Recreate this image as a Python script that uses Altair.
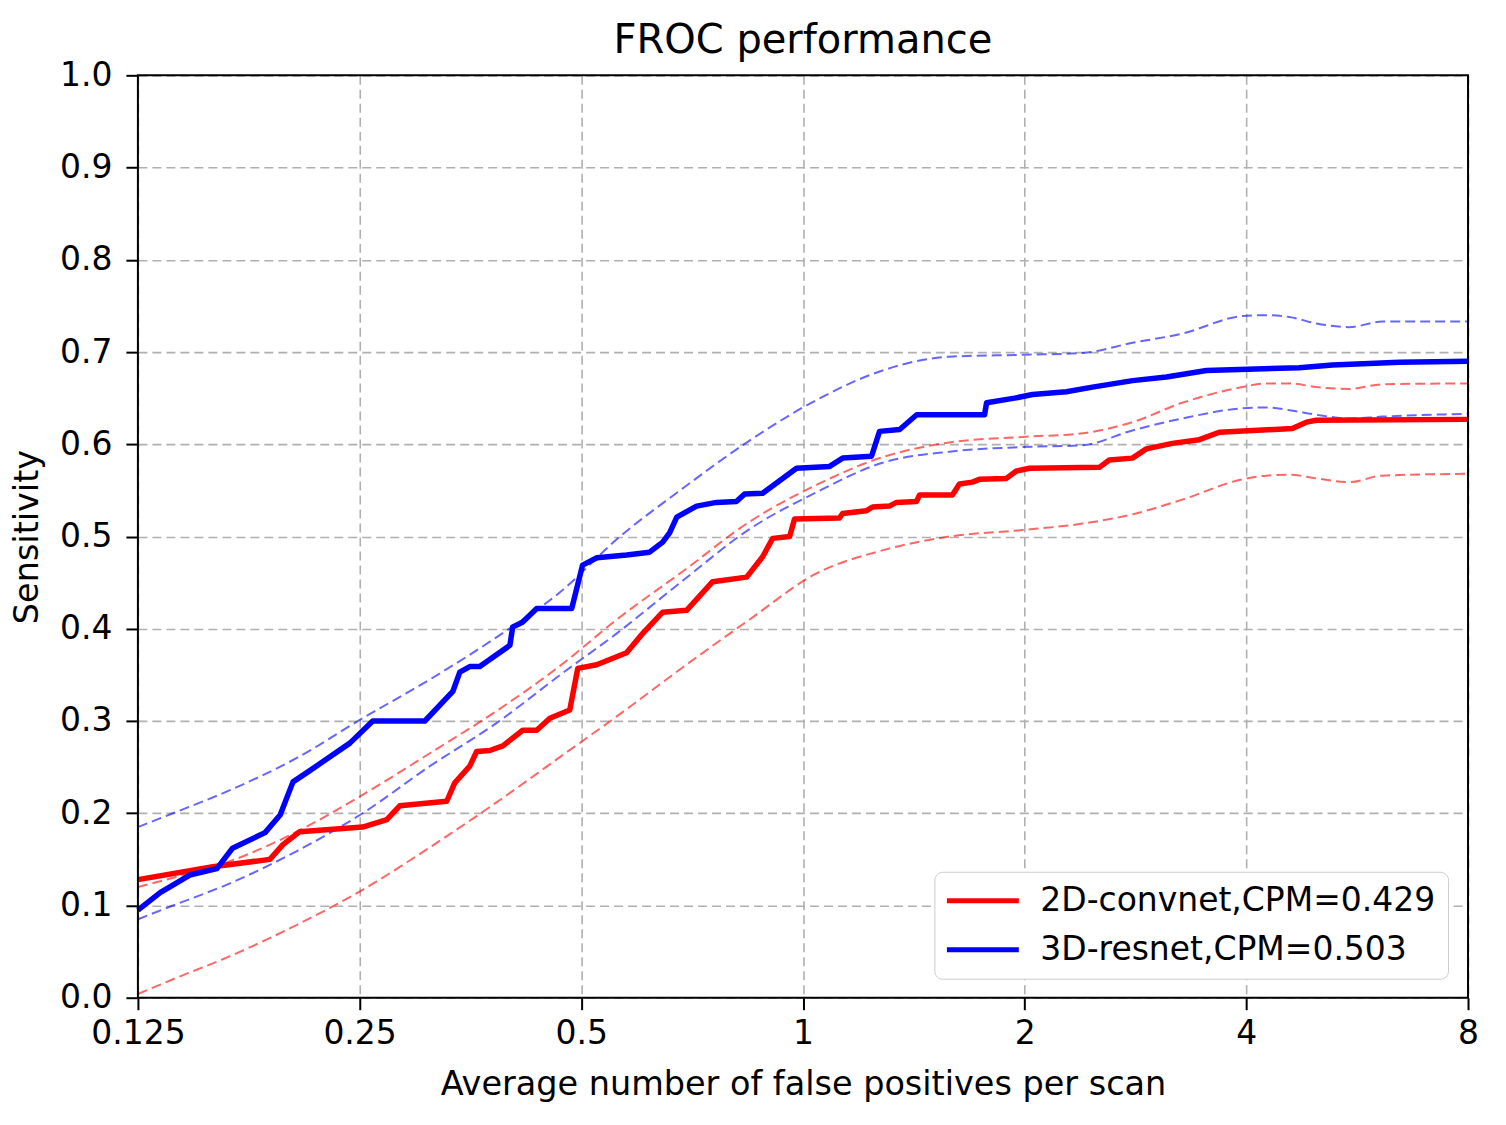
import altair as alt
import pandas as pd

# ---------------- data ----------------
series_names = ["2D-convnet,CPM=0.429", "3D-resnet,CPM=0.503"]
series_colors = ["#ff0000", "#0000ff"]

x_ticks = [0.125, 0.25, 0.5, 1, 2, 4, 8]
y_ticks = [0.0, 0.1, 0.2, 0.3, 0.4, 0.5, 0.6, 0.7, 0.8, 0.9, 1.0]

# 2D-convnet mean FROC curve
red_x = [0.125, 0.158, 0.1888, 0.1967, 0.2073, 0.2524, 0.2722, 0.2834, 0.3283, 0.3366,
         0.3528, 0.3605, 0.3756, 0.3912, 0.4164, 0.435, 0.4532, 0.4823, 0.4945, 0.5246,
         0.576, 0.606, 0.645, 0.695, 0.754, 0.8386, 0.8815, 0.9095, 0.9593, 0.974,
         1.121, 1.132, 1.22, 1.243, 1.31, 1.34, 1.426, 1.44, 1.5955, 1.631,
         1.699, 1.736, 1.889, 1.949, 2.031, 2.526, 2.606, 2.801, 2.926, 3.173,
         3.453, 3.676, 4.617, 4.827, 4.979, 8.0]
red_y = [0.128, 0.142, 0.150, 0.166, 0.180, 0.185, 0.193, 0.208, 0.213, 0.233,
         0.251, 0.267, 0.268, 0.273, 0.290, 0.290, 0.303, 0.312, 0.357, 0.361,
         0.374, 0.395, 0.418, 0.420, 0.451, 0.456, 0.478, 0.498, 0.500, 0.519,
         0.520, 0.525, 0.528, 0.532, 0.533, 0.537, 0.538, 0.545, 0.545, 0.557,
         0.559, 0.562, 0.563, 0.571, 0.574, 0.575, 0.583, 0.585, 0.595, 0.601,
         0.605, 0.613, 0.617, 0.624, 0.626, 0.627]

# 3D-resnet mean FROC curve
blue_x = [0.125, 0.134, 0.147, 0.160, 0.168, 0.186, 0.195, 0.203, 0.212, 0.2425,
          0.2605, 0.3066, 0.3346, 0.342, 0.3528, 0.364, 0.400, 0.4035, 0.416, 0.435,
          0.4853, 0.502, 0.525, 0.576, 0.619, 0.645, 0.659, 0.674, 0.717, 0.763,
          0.812, 0.833, 0.8815, 0.980, 1.087, 1.132, 1.239, 1.2705, 1.353, 1.427,
          1.7645, 1.7756, 1.938, 2.049, 2.279, 2.472, 2.803, 3.115, 3.531, 4.721,
          5.234, 6.454, 8.0]
blue_y = [0.095, 0.114, 0.133, 0.140, 0.162, 0.179, 0.198, 0.234, 0.244, 0.276,
          0.300, 0.300, 0.332, 0.353, 0.359, 0.359, 0.382, 0.402, 0.407, 0.422,
          0.422, 0.469, 0.477, 0.480, 0.483, 0.494, 0.504, 0.521, 0.533, 0.537,
          0.538, 0.546, 0.547, 0.574, 0.576, 0.585, 0.587, 0.614, 0.616, 0.632,
          0.632, 0.645, 0.650, 0.654, 0.657, 0.662, 0.669, 0.673, 0.680, 0.683,
          0.686, 0.689, 0.690]

# confidence-band curves (dashed)
band_x = [0.125, 0.1395, 0.1667, 0.2055, 0.2524, 0.3114, 0.3839, 0.4717, 0.5587, 0.6863,
          0.8462, 1.0432, 1.2825, 1.5812, 1.9862, 2.397, 2.801, 3.274, 3.950, 4.258,
          4.576, 4.979, 5.517, 6.118, 8.0]
red_upper = [0.120, 0.130, 0.148, 0.180, 0.220, 0.265, 0.311, 0.362, 0.410, 0.462,
             0.516, 0.556, 0.586, 0.602, 0.608, 0.612, 0.624, 0.645, 0.662, 0.666,
             0.666, 0.662, 0.660, 0.665, 0.666]
red_lower = [0.004, 0.020, 0.045, 0.079, 0.117, 0.163, 0.212, 0.263, 0.305, 0.358,
             0.410, 0.460, 0.485, 0.500, 0.507, 0.514, 0.524, 0.540, 0.562, 0.566,
             0.567, 0.563, 0.559, 0.566, 0.568]
blue_upper = [0.185, 0.200, 0.225, 0.260, 0.303, 0.345, 0.391, 0.442, 0.497, 0.552,
              0.604, 0.648, 0.680, 0.695, 0.697, 0.699, 0.710, 0.720, 0.739, 0.740,
              0.738, 0.731, 0.727, 0.733, 0.733]
blue_lower = [0.085, 0.100, 0.124, 0.159, 0.200, 0.251, 0.298, 0.352, 0.395, 0.452,
              0.508, 0.548, 0.580, 0.592, 0.597, 0.599, 0.615, 0.628, 0.639, 0.640,
              0.637, 0.632, 0.628, 0.630, 0.633]

# ---------------- tables ----------------
solid = pd.concat([
    pd.DataFrame({"x": red_x, "y": red_y, "model": series_names[0]}),
    pd.DataFrame({"x": blue_x, "y": blue_y, "model": series_names[1]}),
])
red_band = pd.concat([
    pd.DataFrame({"x": band_x, "y": red_upper, "band": "upper"}),
    pd.DataFrame({"x": band_x, "y": red_lower, "band": "lower"}),
])
blue_band = pd.concat([
    pd.DataFrame({"x": band_x, "y": blue_upper, "band": "upper"}),
    pd.DataFrame({"x": band_x, "y": blue_lower, "band": "lower"}),
])

FONT = "DejaVu Sans"
W, H = 1331, 923

x_enc = alt.X("x:Q",
              scale=alt.Scale(type="log", base=2, domain=[0.125, 8], nice=False),
              axis=alt.Axis(values=x_ticks, format="~g",
                            title="Average number of false positives per scan",
                            labelFlush=False, labelPadding=8, titlePadding=18))
y_enc = alt.Y("y:Q",
              scale=alt.Scale(domain=[0, 1], nice=False),
              axis=alt.Axis(values=y_ticks, format=".1f", title="Sensitivity",
                            labelPadding=14, titlePadding=15))

dash_style = dict(strokeDash=[10, 5], strokeWidth=2, opacity=0.6, interpolate="monotone")

red_dash = alt.Chart(red_band).mark_line(color=series_colors[0], **dash_style).encode(
    x=x_enc, y=y_enc, detail="band:N")
blue_dash = alt.Chart(blue_band).mark_line(color=series_colors[1], **dash_style).encode(
    x=x_enc, y=y_enc, detail="band:N")

lines = alt.Chart(solid).mark_line(strokeWidth=5.5, strokeJoin="round").encode(
    x=x_enc, y=y_enc,
    color=alt.Color("model:N",
                    scale=alt.Scale(domain=series_names, range=series_colors),
                    sort=series_names,
                    legend=alt.Legend(title=None, orient="none", legendX=797, legendY=797,
                                      symbolType="M-3,0H3", symbolSize=576,
                                      symbolOffset=20, symbolStrokeWidth=5,
                                      clipHeight=34,
                                      labelFontSize=33, labelFont=FONT,
                                      labelColor="#000000", labelLimit=0,
                                      labelOffset=41, padding=12, rowPadding=15,
                                      cornerRadius=8, strokeColor="#cccccc",
                                      fillColor="#ffffff")),
)

# black frame around the plot area, drawn on top of the grid
frame = alt.Chart(pd.DataFrame({"f": [0]})).mark_rect(
    fill=None, stroke="#000000", strokeWidth=2
).encode(x=alt.value(0), x2=alt.value(W), y=alt.value(0), y2=alt.value(H))

chart = alt.layer(red_dash, blue_dash, lines, frame).properties(
    width=W, height=H,
    background="#ffffff",
    autosize=alt.AutoSizeParams(type="none"),
    padding={"left": 130, "top": 67, "right": 30, "bottom": 120},
    title=alt.TitleParams("FROC performance", fontSize=40, font=FONT,
                          fontWeight="normal", color="#000000", offset=-2),
).configure_view(
    stroke=None
).configure_axis(
    domain=False,
    labelFont=FONT, labelFontSize=33, labelColor="#000000",
    titleFont=FONT, titleFontSize=33.5, titleColor="#000000", titleFontWeight="normal",
    tickColor="#000000", tickSize=12, tickWidth=2,
    grid=True, gridColor="#b0b0b0", gridDash=[9, 5], gridWidth=1.6,
)

chart.save("out.html", embed_options={"renderer": "svg", "actions": False})
